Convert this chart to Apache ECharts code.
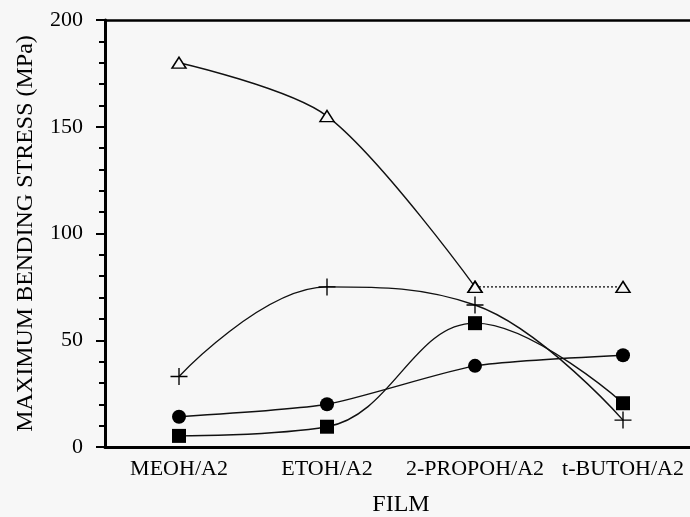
<!DOCTYPE html>
<html>
<head>
<meta charset="utf-8">
<script src="https://cdn.jsdelivr.net/npm/echarts@6/dist/echarts.min.js"></script>
<style>
html,body{margin:0;padding:0;background:#f7f7f7;}
#chart{width:690px;height:517px;}
</style>
</head>
<body>
<div id="chart"></div>
<script>
var categories = ['MEOH/A2', 'ETOH/A2', '2-PROPOH/A2', 't-BUTOH/A2'];
var triangleSolid = [180, 155, 75, null];
var triangleDotted = [null, null, 75, 75];
var crossValues = [33, 75, 66.5, 12.6];
var squareValues = [5.2, 9.5, 58, 20.5];
var circleValues = [14.2, 20, 38, 43];
var yTicks = [0, 50, 100, 150, 200];

var font = '"Liberation Serif", "Times New Roman", serif';
var crossPath = 'path://M9.2,0 L10.8,0 L10.8,9.2 L20,9.2 L20,10.8 L10.8,10.8 L10.8,20 L9.2,20 L9.2,10.8 L0,10.8 L0,9.2 L9.2,9.2 Z';

var chart = echarts.init(document.getElementById('chart'), null, {renderer: 'canvas'});
var lineStyle = {color: '#111', width: 1.4};
chart.setOption({
  backgroundColor: '#f7f7f7',
  animation: false,
  grid: {left: 105, right: -7, top: 20, bottom: 70, containLabel: false, outerBoundsMode: 'none'},
  xAxis: [{
    type: 'category',
    data: categories,
    boundaryGap: true,
    axisLine: {lineStyle: {color: '#000', width: 3}},
    axisTick: {alignWithLabel: true, length: 7, lineStyle: {color: '#000', width: 2}},
    axisLabel: {interval: 0, color: '#000', fontFamily: font, fontSize: 22, margin: 11},
    name: 'FILM',
    nameLocation: 'middle',
    nameGap: 46,
    nameTextStyle: {color: '#000', fontFamily: font, fontSize: 24},
    splitLine: {show: false}
  }, {
    type: 'category',
    data: categories,
    position: 'top',
    axisLine: {lineStyle: {color: '#000', width: 2.5}},
    axisTick: {show: false},
    axisLabel: {show: false},
    splitLine: {show: false}
  }],
  yAxis: {
    type: 'value',
    min: yTicks[0],
    max: yTicks[yTicks.length - 1],
    interval: 50,
    axisLine: {show: true, lineStyle: {color: '#000', width: 3}},
    axisTick: {show: true, length: 9, lineStyle: {color: '#000', width: 2}},
    minorTick: {show: true, splitNumber: 5, length: 6, lineStyle: {color: '#000', width: 2}},
    axisLabel: {color: '#000', fontFamily: font, fontSize: 22, margin: 22},
    splitLine: {show: false},
    name: 'MAXIMUM BENDING STRESS (MPa)',
    nameLocation: 'middle',
    nameGap: 67,
    nameRotate: 90,
    nameTextStyle: {color: '#000', fontFamily: font, fontSize: 24}
  },
  series: [
    {
      type: 'line', data: triangleSolid, smooth: 0.3, connectNulls: false,
      symbol: 'triangle', symbolSize: [14, 11],
      itemStyle: {color: '#f7f7f7', borderColor: '#000', borderWidth: 1.5},
      lineStyle: lineStyle, z: 3
    },
    {
      type: 'line', data: triangleDotted,
      symbol: 'triangle', symbolSize: [14, 11],
      itemStyle: {color: '#f7f7f7', borderColor: '#000', borderWidth: 1.5},
      lineStyle: {color: '#222', width: 1.4, type: [2, 2]}, z: 3
    },
    {
      type: 'line', data: crossValues, smooth: 0.4,
      symbol: crossPath, symbolSize: 17,
      itemStyle: {color: '#000', borderWidth: 0},
      lineStyle: lineStyle
    },
    {
      type: 'line', data: squareValues, smooth: 0.4,
      symbol: 'rect', symbolSize: 14,
      itemStyle: {color: '#000', borderWidth: 0},
      lineStyle: lineStyle
    },
    {
      type: 'line', data: circleValues, smooth: 0.2,
      symbol: 'circle', symbolSize: 14,
      itemStyle: {color: '#000', borderWidth: 0},
      lineStyle: lineStyle
    }
  ]
});
</script>
</body>
</html>
